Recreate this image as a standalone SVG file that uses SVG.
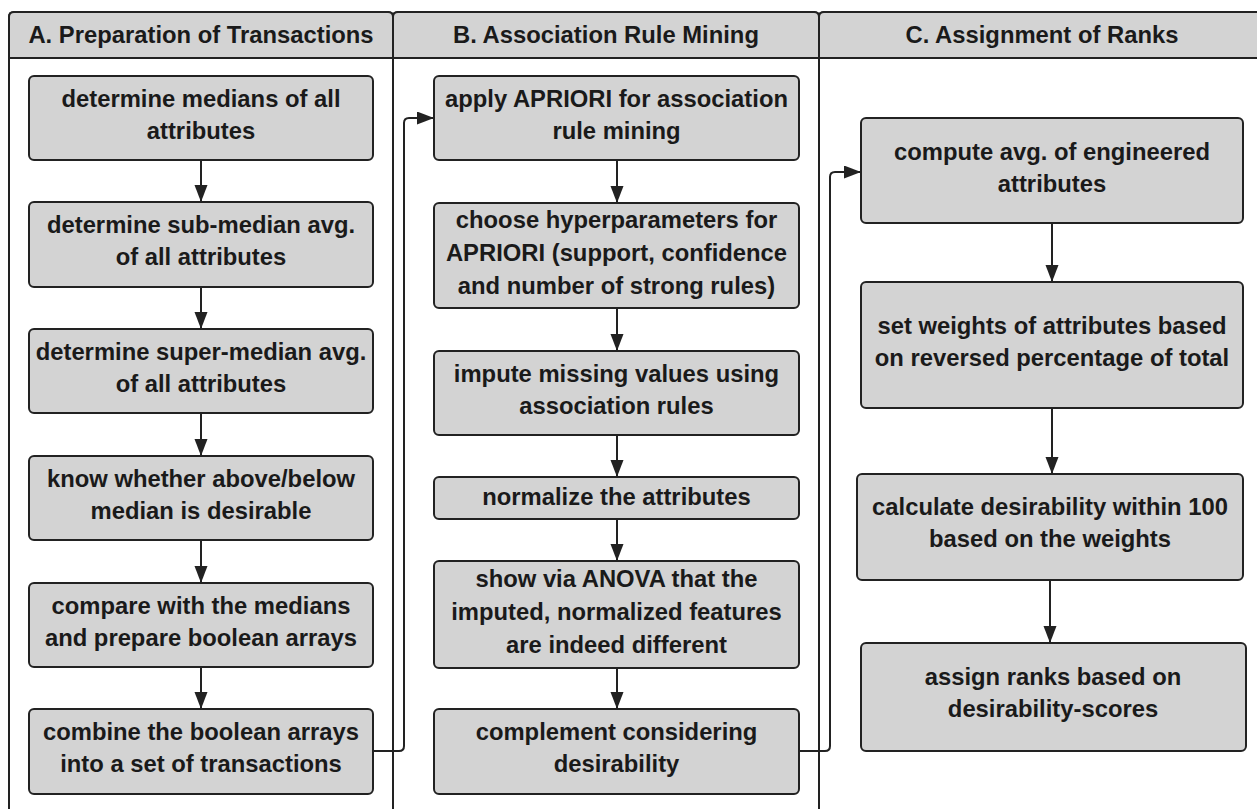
<svg xmlns="http://www.w3.org/2000/svg" width="1257" height="809" viewBox="0 0 1257 809">
<style>
.lane{fill:#ffffff;stroke:#222;stroke-width:2}
.hdr{fill:#d3d3d3;stroke:#222;stroke-width:2}
.box{fill:#d3d3d3;stroke:#222;stroke-width:2}
.t{font-family:"Liberation Sans",Arial,sans-serif;font-weight:bold;font-size:23.8px;fill:#1a1a1a;text-anchor:middle}
.c{fill:none;stroke:#222;stroke-width:2}
</style>
<defs>
<marker id="ah" markerUnits="userSpaceOnUse" markerWidth="18" markerHeight="14" refX="17" refY="6.5" orient="auto">
<path d="M0,0 L17,6.5 L0,13 z" fill="#222"/>
</marker>
</defs>
<rect width="1257" height="809" fill="#ffffff"/>
<g id="laneA">
<path class="lane" d="M9,830 V17 Q9,12 14,12 H388 Q393,12 393,17 V830"/>
<path class="hdr" d="M9,58 V17 Q9,12 14,12 H388 Q393,12 393,17 V58 Z"/>
<text class="t" x="201" y="43">A. Preparation of Transactions</text>
</g>
<g id="laneB">
<path class="lane" d="M393,830 V17 Q393,12 398,12 H814 Q819,12 819,17 V830"/>
<path class="hdr" d="M393,58 V17 Q393,12 398,12 H814 Q819,12 819,17 V58 Z"/>
<text class="t" x="606" y="43">B. Association Rule Mining</text>
</g>
<g id="laneC">
<path class="lane" d="M819,830 V17 Q819,12 824,12 H1265 V830"/>
<path class="hdr" d="M819,58 V17 Q819,12 824,12 H1265 V58 Z"/>
<text class="t" x="1042" y="43">C. Assignment of Ranks</text>
</g>
<g id="connectors">
<path class="c" d="M201,160 V202" marker-end="url(#ah)"/>
<path class="c" d="M201,287 V329" marker-end="url(#ah)"/>
<path class="c" d="M201,413 V456" marker-end="url(#ah)"/>
<path class="c" d="M201,540 V583" marker-end="url(#ah)"/>
<path class="c" d="M201,667 V709" marker-end="url(#ah)"/>
<path class="c" d="M373,751 H399 Q404,751 404,746 V123 Q404,118 409,118 H434" marker-end="url(#ah)"/>
<path class="c" d="M617,160 V203" marker-end="url(#ah)"/>
<path class="c" d="M617,308 V351" marker-end="url(#ah)"/>
<path class="c" d="M617,435 V477" marker-end="url(#ah)"/>
<path class="c" d="M617,519 V561" marker-end="url(#ah)"/>
<path class="c" d="M617,668 V709" marker-end="url(#ah)"/>
<path class="c" d="M799,751 H825 Q830,751 830,746 V177 Q830,172 835,172 H861" marker-end="url(#ah)"/>
<path class="c" d="M1052,223 V282" marker-end="url(#ah)"/>
<path class="c" d="M1052,408 V474" marker-end="url(#ah)"/>
<path class="c" d="M1050,580 V643" marker-end="url(#ah)"/>
</g>
<g id="A1"><rect class="box" x="29" y="76" width="344" height="84" rx="5"/>
<text class="t" x="201" y="107">determine medians of all</text><text class="t" x="201" y="139">attributes</text></g>
<g id="A2"><rect class="box" x="29" y="202" width="344" height="85" rx="5"/>
<text class="t" x="201" y="233">determine sub-median avg.</text><text class="t" x="201" y="265">of all attributes</text></g>
<g id="A3"><rect class="box" x="29" y="329" width="344" height="84" rx="5"/>
<text class="t" x="201" y="360">determine super-median avg.</text><text class="t" x="201" y="392">of all attributes</text></g>
<g id="A4"><rect class="box" x="29" y="456" width="344" height="84" rx="5"/>
<text class="t" x="201" y="487">know whether above/below</text><text class="t" x="201" y="519">median is desirable</text></g>
<g id="A5"><rect class="box" x="29" y="583" width="344" height="84" rx="5"/>
<text class="t" x="201" y="614">compare with the medians</text><text class="t" x="201" y="646">and prepare boolean arrays</text></g>
<g id="A6"><rect class="box" x="29" y="709" width="344" height="85" rx="5"/>
<text class="t" x="201" y="740">combine the boolean arrays</text><text class="t" x="201" y="772">into a set of transactions</text></g>
<g id="B1"><rect class="box" x="434" y="76" width="365" height="84" rx="5"/>
<text class="t" x="616.5" y="107">apply APRIORI for association</text><text class="t" x="616.5" y="139">rule mining</text></g>
<g id="B2"><rect class="box" x="434" y="203" width="365" height="105" rx="5"/>
<text class="t" x="616.5" y="228">choose hyperparameters for</text><text class="t" x="616.5" y="261">APRIORI (support, confidence</text><text class="t" x="616.5" y="294">and number of strong rules)</text></g>
<g id="B3"><rect class="box" x="434" y="351" width="365" height="84" rx="5"/>
<text class="t" x="616.5" y="382">impute missing values using</text><text class="t" x="616.5" y="414">association rules</text></g>
<g id="B4"><rect class="box" x="434" y="477" width="365" height="42" rx="5"/>
<text class="t" x="616.5" y="505">normalize the attributes</text></g>
<g id="B5"><rect class="box" x="434" y="561" width="365" height="107" rx="5"/>
<text class="t" x="616.5" y="587">show via ANOVA that the</text><text class="t" x="616.5" y="620">imputed, normalized features</text><text class="t" x="616.5" y="653">are indeed different</text></g>
<g id="B6"><rect class="box" x="434" y="709" width="365" height="85" rx="5"/>
<text class="t" x="616.5" y="740">complement considering</text><text class="t" x="616.5" y="772">desirability</text></g>
<g id="C1"><rect class="box" x="861" y="118" width="382" height="105" rx="5"/>
<text class="t" x="1052" y="160">compute avg. of engineered</text><text class="t" x="1052" y="192">attributes</text></g>
<g id="C2"><rect class="box" x="861" y="282" width="382" height="126" rx="5"/>
<text class="t" x="1052" y="334">set weights of attributes based</text><text class="t" x="1052" y="366">on reversed percentage of total</text></g>
<g id="C3"><rect class="box" x="857" y="474" width="386" height="106" rx="5"/>
<text class="t" x="1050" y="515">calculate desirability within 100</text><text class="t" x="1050" y="547">based on the weights</text></g>
<g id="C4"><rect class="box" x="861" y="643" width="385" height="108" rx="5"/>
<text class="t" x="1053" y="685">assign ranks based on</text><text class="t" x="1053" y="717">desirability-scores</text></g>
</svg>
